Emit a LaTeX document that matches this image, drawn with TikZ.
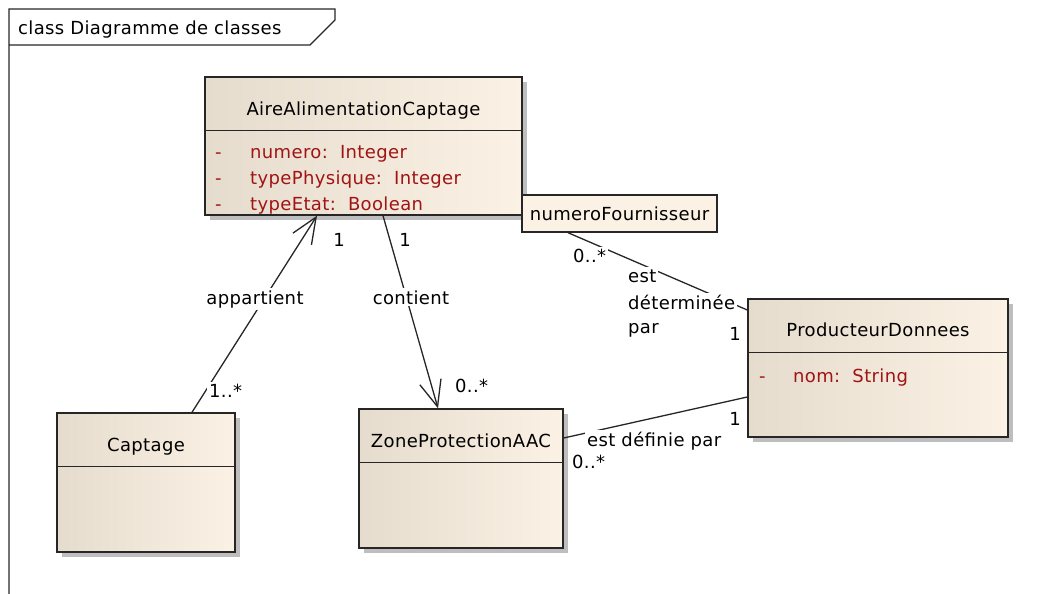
\documentclass[tikz,border=0pt]{standalone}
\usepackage{fontspec}
\setmainfont{DejaVu Sans}[LetterSpace=2]
\usepackage{xcolor}
\usetikzlibrary{arrows.meta, shadows}

\begin{document}
\begin{tikzpicture}[x=1pt, y=-1pt, font=\fontsize{18}{22}\selectfont,
  classbox/.style={draw=black!85, line width=1.4pt, rectangle, inner sep=0pt,
    left color=classleft, right color=classright,
    drop shadow={shadow xshift=5pt, shadow yshift=-5pt, fill=shadowgray, opacity=1}},
  qualbox/.style={draw=black!85, line width=1.4pt, rectangle, inner sep=0pt, fill=classright},
  headline/.style={line width=1.6pt, black!85},
  attr/.style={text=attrred, anchor=base west, inner sep=0pt},
  link/.style={line width=1.3pt, black!85},
  navlink/.style={link, -{Straight Barb[length=26pt, width=22pt]}},
  lbl/.style={fill=white, inner sep=2pt, anchor=base west}]

% Define header height of the class boxes
\def\headH{54}

% Define the colours of the boxes
\definecolor{classleft}{RGB}{230,220,206}
\definecolor{classright}{RGB}{251,241,228}
\definecolor{shadowgray}{RGB}{190,190,190}
\definecolor{attrred}{RGB}{160,20,20}

\useasboundingbox (0,0) rectangle (1045,594);

% Draw frame with its name tab
\draw[line width=1.2pt, black!85] (9,594) -- (9,9) -- (335,9) -- (335,20) -- (310,45) -- (9,45);
\node[anchor=base west, inner sep=0pt] (frameName) at (18,35) {class Diagramme de classes};

% Draw class AireAlimentationCaptage
\node[classbox, minimum width=317pt, minimum height=138pt] (aire) at (363.5,146) {};
\draw[headline] ([yshift=-\headH pt]aire.north west) -- ([yshift=-\headH pt]aire.north east);
\node[anchor=base, inner sep=0pt] (aireName) at (363.5,115) {AireAlimentationCaptage};
\node[attr] (aireDash1) at (215,158) {-};
\node[attr] (aireAttr1) at (250,158) {numero:\ \ Integer};
\node[attr] (aireDash2) at (215,184) {-};
\node[attr] (aireAttr2) at (250,184) {typePhysique:\ \ Integer};
\node[attr] (aireDash3) at (215,210) {-};
\node[attr] (aireAttr3) at (250,210) {typeEtat:\ \ Boolean};

% Draw qualifier on AireAlimentationCaptage
\node[qualbox, minimum width=195pt, minimum height=37pt] (qual) at (619.5,213.5) {};
\node[anchor=base, inner sep=0pt] (qualName) at (619.5,220) {numeroFournisseur};

% Draw class ProducteurDonnees
\node[classbox, minimum width=260pt, minimum height=138pt] (prod) at (878,368) {};
\draw[headline] ([yshift=-\headH pt]prod.north west) -- ([yshift=-\headH pt]prod.north east);
\node[anchor=base, inner sep=0pt] (prodName) at (878,336) {ProducteurDonnees};
\node[attr] (prodDash1) at (759,382) {-};
\node[attr] (prodAttr1) at (793,382) {nom:\ \ String};

% Draw class Captage
\node[classbox, minimum width=178pt, minimum height=139pt] (captage) at (146,482.5) {};
\draw[headline] ([yshift=-\headH pt]captage.north west) -- ([yshift=-\headH pt]captage.north east);
\node[anchor=base, inner sep=0pt] (captageName) at (146,451) {Captage};

% Draw class ZoneProtectionAAC
\node[classbox, minimum width=204pt, minimum height=139pt] (zone) at (461,478.5) {};
\draw[headline] ([yshift=-\headH pt]zone.north west) -- ([yshift=-\headH pt]zone.north east);
\node[anchor=base, inner sep=0pt] (zoneName) at (461,447) {ZoneProtectionAAC};

% Draw associations
\draw[navlink] ([xshift=46pt]captage.north) -- ([xshift=-46.5pt]aire.south);
\draw[navlink] ([xshift=19.5pt]aire.south) -- ([xshift=-23pt]zone.north);
\draw[link] ([xshift=-51.5pt]qual.south) -- ([yshift=58pt]prod.west);
\draw[link] ([yshift=40.5pt]zone.east) -- ([yshift=-29pt]prod.west);

% Draw association names
\node[lbl, anchor=base] (appartientLbl) at (255,304) {appartient};
\node[lbl, anchor=base] (contientLbl) at (411,304) {contient};
\node[lbl] (estLbl) at (626,282) {est};
\node[lbl] (determineeLbl) at (626,309) {déterminée};
\node[lbl] (parLbl) at (626,333) {par};
\node[lbl] (definieLbl) at (585,446) {est définie par};

% Draw multiplicities
\node[lbl] (multCaptage) at (207,397) {1..*};
\node[lbl, anchor=base] (multAireA) at (339,246) {1};
\node[lbl, anchor=base] (multAireC) at (405,246) {1};
\node[lbl] (multZoneC) at (453,392) {0..*};
\node[lbl] (multQual) at (571,262) {0..*};
\node[lbl, anchor=base] (multProdD) at (735,340) {1};
\node[lbl] (multZoneD) at (570,468) {0..*};
\node[lbl, anchor=base] (multProdE) at (735,425) {1};

\end{tikzpicture}
\end{document}
